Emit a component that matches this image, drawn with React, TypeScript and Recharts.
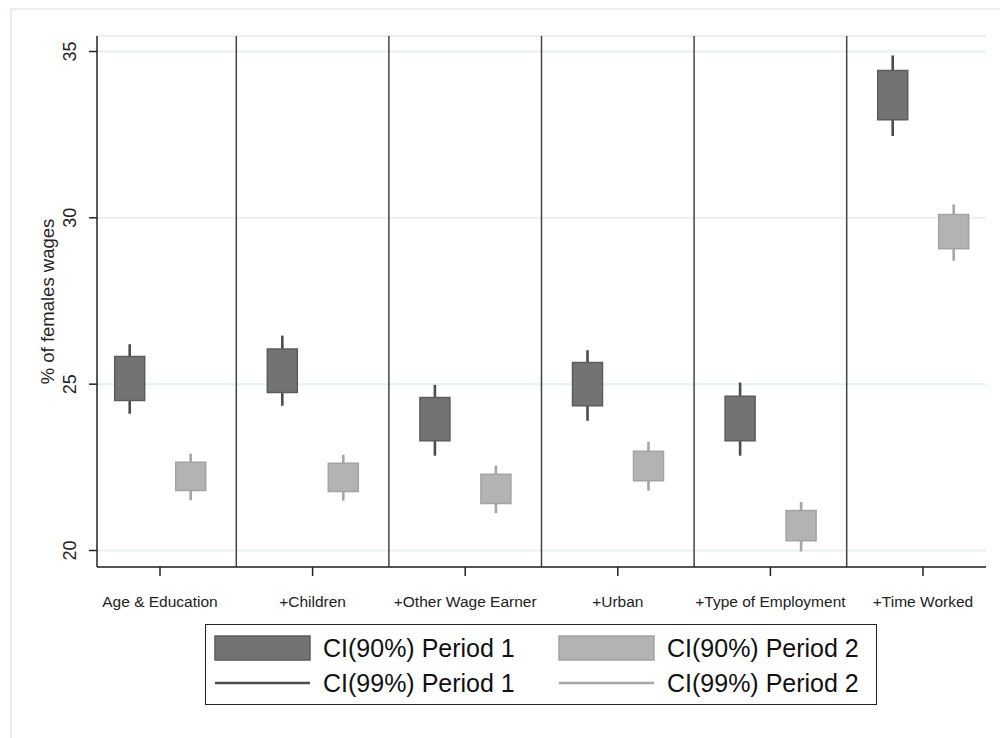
import React from "react";
import { ComposedChart, Bar, XAxis, YAxis, CartesianGrid, ReferenceLine } from "recharts";

const categories = [
  "Age & Education",
  "+Children",
  "+Other Wage Earner",
  "+Urban",
  "+Type of Employment",
  "+Time Worked",
];
const positions = [1, 2, 3, 4, 5, 6];
const yTicks = [20, 25, 30, 35];
const separators = [1.5, 2.5, 3.5, 4.5, 5.5];

// period 1
const p1Ci90Low = [24.51, 24.75, 23.3, 24.35, 23.3, 32.95];
const p1Ci90High = [25.83, 26.06, 24.6, 25.65, 24.64, 34.43];
const p1Ci99Low = [24.11, 24.35, 22.85, 23.9, 22.85, 32.46];
const p1Ci99High = [26.2, 26.46, 24.98, 26.02, 25.05, 34.88];
// period 2
const p2Ci90Low = [21.8, 21.77, 21.41, 22.1, 20.29, 29.07];
const p2Ci90High = [22.65, 22.62, 22.29, 22.98, 21.2, 30.1];
const p2Ci99Low = [21.51, 21.5, 21.12, 21.8, 19.97, 28.71];
const p2Ci99High = [22.91, 22.88, 22.55, 23.27, 21.46, 30.4];

const legendItems = [
  { label: "CI(90%) Period 1", kind: "box", color: "#737373", border: "#5c5c5c" },
  { label: "CI(90%) Period 2", kind: "box", color: "#b3b3b3", border: "#a3a3a3" },
  { label: "CI(99%) Period 1", kind: "line", color: "#4d4d4d", border: "#4d4d4d" },
  { label: "CI(99%) Period 2", kind: "line", color: "#a6a6a6", border: "#a6a6a6" },
];

const data = positions.map((x, i) => ({
  x,
  name: categories[i],
  box1: [p1Ci90Low[i], p1Ci90High[i]],
  box2: [p2Ci90Low[i], p2Ci90High[i]],
  ci1: [p1Ci99Low[i], p1Ci99High[i]],
  ci2: [p2Ci99Low[i], p2Ci99High[i]],
}));

const FONT = "'Liberation Sans', Arial, sans-serif";
const PX = 152.6;
const xDomain = [1 - 63 / PX, 6 + 63 / PX];

const Whisker = (color: string) => (props: any) => {
  const { x, y, width, height } = props;
  if (height == null) return null;
  return <rect x={x + width / 2 - 1.3} y={y} width={2.6} height={height} fill={color} />;
};

const XTick = (props: any) => {
  const { x, y, payload } = props;
  const idx = positions.indexOf(payload.value);
  return (
    <text x={x} y={y} dy={29} textAnchor="middle" fontFamily={FONT} fontSize={15.5} fill="#222">
      {categories[idx]}
    </text>
  );
};

const YTick = (props: any) => {
  const { y, payload } = props;
  return (
    <text
      transform={`translate(75.5, ${y}) rotate(-90)`}
      textAnchor="middle"
      fontFamily={FONT}
      fontSize={18}
      fill="#222"
    >
      {payload.value}
    </text>
  );
};

const ChartLegend = () => (
  <div
    style={{
      position: "absolute",
      left: 205,
      top: 624,
      width: 672,
      height: 81,
      border: "1.5px solid #222",
      boxSizing: "border-box",
      background: "#fff",
    }}
  >
    <svg width={672} height={81} style={{ position: "absolute", left: -1.5, top: -1.5 }}>
      {legendItems.map((item, i) => {
        const col = i % 2;
        const row = Math.floor(i / 2);
        const sx = col === 0 ? 10 : 354;
        const cy = row === 0 ? 24 : 59;
        return (
          <g key={item.label}>
            {item.kind === "box" ? (
              <rect x={sx} y={cy - 12} width={95} height={24} fill={item.color} stroke={item.border} strokeWidth={1.5} />
            ) : (
              <line x1={sx} x2={sx + 95} y1={cy} y2={cy} stroke={item.color} strokeWidth={2.5} />
            )}
            <text x={sx + 108} y={cy + 9} fontFamily={FONT} fontSize={25} fill="#111">
              {item.label}
            </text>
          </g>
        );
      })}
    </svg>
  </div>
);

export default function App() {
  return (
    <div style={{ position: "absolute", left: 0, top: 0, width: 1000, height: 738, background: "#fff" }}>
      <div
        style={{
          position: "absolute",
          left: 10,
          top: 8,
          width: 1000,
          height: 740,
          borderTop: "2px solid #e8eff1",
          borderLeft: "2px solid #e8eff1",
        }}
      />
      <ComposedChart
        width={1000}
        height={738}
        data={data}
        margin={{ top: 36, right: 14, left: 0, bottom: 126 }}
        barSize={30}
        barGap={31}
        style={{ position: "absolute", left: 0, top: 0 }}
      >
        <CartesianGrid vertical={false} stroke="#e6eff1" strokeWidth={2} />
        <XAxis
          xAxisId="main"
          type="number"
          dataKey="x"
          domain={xDomain}
          allowDataOverflow
          ticks={positions}
          tick={<XTick />}
          tickSize={9}
          tickMargin={2}
          height={45}
          stroke="#222"
          strokeWidth={1.5}
          interval={0}
        />
        <XAxis xAxisId="w" type="number" dataKey="x" domain={xDomain} allowDataOverflow hide />
        <YAxis
          type="number"
          domain={[19.504, 35.466]}
          allowDataOverflow
          ticks={yTicks}
          interval={0}
          tick={<YTick />}
          tickSize={8}
          width={97}
          stroke="#222"
          strokeWidth={1.5}
          label={{
            value: "% of females wages",
            angle: -90,
            position: "insideLeft",
            content: () => (
              <text
                transform="translate(54, 301.5) rotate(-90)"
                textAnchor="middle"
                fontFamily={FONT}
                fontSize={18.5}
                fill="#2a2222"
              >
                % of females wages
              </text>
            ),
          }}
        />
        {separators.map((s) => (
          <ReferenceLine key={s} xAxisId="main" x={s} stroke="#444" strokeWidth={1.5} />
        ))}
        <Bar xAxisId="w" dataKey="ci1" shape={Whisker("#4d4d4d")} isAnimationActive={false} />
        <Bar xAxisId="w" dataKey="ci2" shape={Whisker("#a6a6a6")} isAnimationActive={false} />
        <Bar xAxisId="main" dataKey="box1" fill="#737373" stroke="#5c5c5c" strokeWidth={1.5} isAnimationActive={false} />
        <Bar xAxisId="main" dataKey="box2" fill="#b3b3b3" stroke="#a3a3a3" strokeWidth={1.5} isAnimationActive={false} />
      </ComposedChart>
      <ChartLegend />
    </div>
  );
}
